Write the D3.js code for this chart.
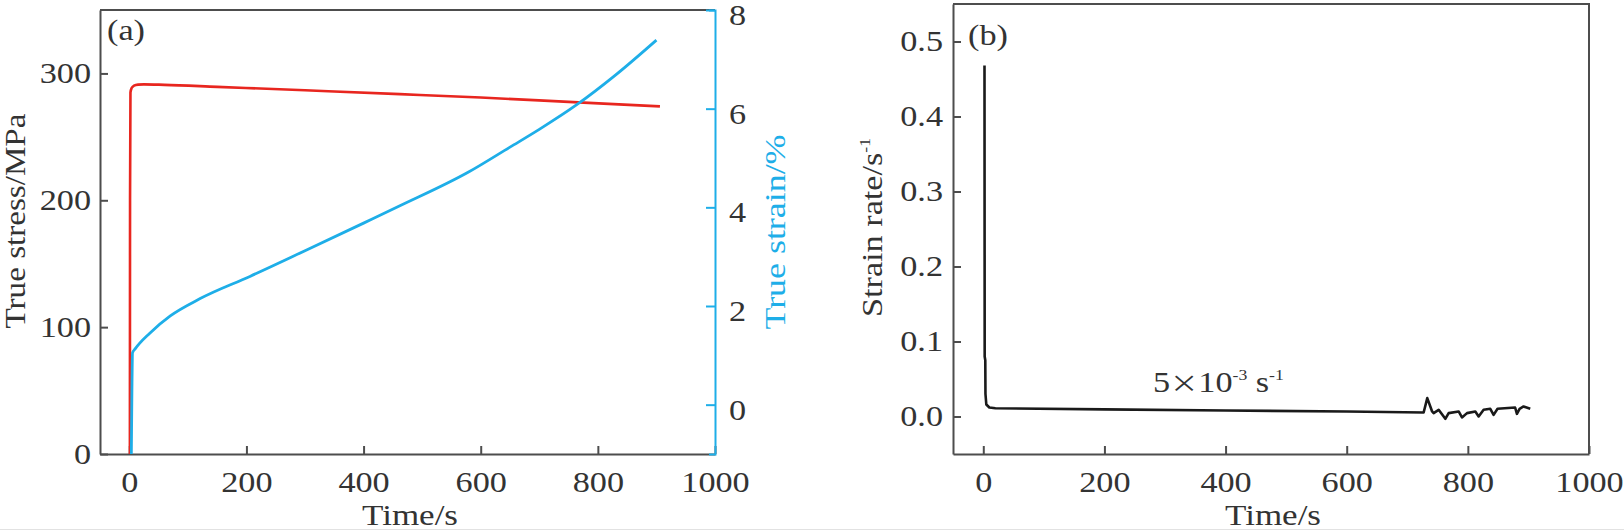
<!DOCTYPE html>
<html>
<head>
<meta charset="utf-8">
<script src="https://cdn.jsdelivr.net/npm/d3@7"></script>
<style>
  html, body { margin: 0; padding: 0; background: #fff; }
  text { font-family: "Liberation Serif", serif; fill: #333; }
</style>
</head>
<body>
<div id="chart"></div>
<script>
// panel (a): true stress / true strain against time
var timeStress = [1, 1.3, 2, 4, 8, 15, 25, 60, 150, 300, 462, 600, 750, 906];
var stress     = [0, 200, 285, 288.5, 290.3, 291.2, 291.4, 291, 289.4, 286.7, 283.7, 281, 277.6, 274];

var timeStrain = [3.5, 4.5, 5.5, 10, 35, 70, 121, 206, 300, 400, 462, 580, 650, 700, 764, 830, 900];
var strain     = [-1, 0.3, 1.05, 1.13, 1.45, 1.8, 2.15, 2.6, 3.12, 3.68, 4.03, 4.72, 5.22, 5.58, 6.08, 6.68, 7.39];

// panel (b): strain rate against time
var timeRate = [2, 2.3, 3.3, 3.6, 5, 10, 20, 200, 400, 600, 727, 733, 741, 743.5, 751.8, 762.8, 768.3, 784.8,
                790.3, 798.6, 812.3, 817.8, 826, 837, 842.5, 849, 878, 881, 885.4, 892, 903];
var rate     = [0.468, 0.08, 0.075, 0.03, 0.016, 0.012, 0.011, 0.0095, 0.008, 0.0066, 0.0053, 0.0245, 0.0067, 0.0045,
                0.0089, -0.0031, 0.0045, 0.0067, -0.0013, 0.0045, 0.0067, 0.0, 0.0089, 0.0103, 0.0022, 0.0103,
                0.012, 0.0036, 0.0103, 0.0134, 0.0103];

var timeTicks   = [0, 200, 400, 600, 800, 1000];
var stressTicks = [0, 100, 200, 300];
var strainTicks = [0, 2, 4, 6, 8];
var rateTicks   = [0, 0.1, 0.2, 0.3, 0.4, 0.5];

var W = 1624, H = 532;
var SX = 1.18;          // the source font is drawn wide
var FS = 29;
var GREY = '#4d4d4d', BLUE = '#1eaee8', RED = '#e8261f';

var svg = d3.select('#chart').append('svg')
    .attr('width', W)
    .attr('height', H);

function stretch(sel) {
    sel.each(function () {
        var t = d3.select(this);
        var x = +t.attr('x') || 0, y = +t.attr('y') || 0;
        t.attr('x', 0).attr('y', 0)
            .attr('transform', 'translate(' + x + ',' + y + ') scale(' + SX + ',1)');
    });
}

function styleAxis(g, colour) {
    g.select('.domain').attr('stroke', colour).attr('stroke-width', 2);
    g.selectAll('.tick line').attr('stroke', colour).attr('stroke-width', 2);
    g.selectAll('.tick text')
        .attr('fill', '#333')
        .style('font-family', '"Liberation Serif", serif')
        .style('font-size', FS + 'px');
    stretch(g.selectAll('.tick text'));
}

// axis titles are fitted to the length they have in the picture
function label(txt, x, y, rot, len, colour) {
    return svg.append('text')
        .attr('transform', 'translate(' + x + ',' + y + ') rotate(' + rot + ')')
        .attr('text-anchor', 'middle')
        .attr('textLength', len)
        .attr('lengthAdjust', 'spacingAndGlyphs')
        .style('font-size', FS + 'px')
        .style('fill', colour || '#333')
        .text(txt);
}

// ---------- panel (a) ----------
var xA = d3.scaleLinear().domain([-50, 1000]).range([100, 715]);
var yStress = d3.scaleLinear().domain([0, 350]).range([454, 10]);
var yStrain = d3.scaleLinear().domain([-1, 8]).range([454, 10]);

svg.append('line')
    .attr('x1', 100).attr('x2', 715).attr('y1', 10).attr('y2', 10)
    .attr('stroke', GREY).attr('stroke-width', 2);

var xAxisA = svg.append('g').attr('transform', 'translate(0,454)')
    .call(d3.axisBottom(xA).tickValues(timeTicks).tickFormat(d3.format('d'))
        .tickSize(-8).tickSizeOuter(0).tickPadding(17));
styleAxis(xAxisA, GREY);

var yAxisA = svg.append('g').attr('transform', 'translate(100,0)')
    .call(d3.axisLeft(yStress).tickValues(stressTicks).tickSize(-8).tickSizeOuter(0).tickPadding(9));
styleAxis(yAxisA, GREY);

var yAxisR = svg.append('g').attr('transform', 'translate(715,0)')
    .call(d3.axisRight(yStrain).tickValues(strainTicks).tickSize(-9).tickSizeOuter(-6).tickPadding(14));
styleAxis(yAxisR, BLUE);
yAxisR.selectAll('.tick text').attr('dy', '0.5em');

var stressLine = d3.line()
    .x(function (d, i) { return xA(timeStress[i]); })
    .y(function (d) { return yStress(d); })
    .curve(d3.curveMonotoneX);

var strainLine = d3.line()
    .x(function (d, i) { return xA(timeStrain[i]); })
    .y(function (d) { return yStrain(d); })
    .curve(d3.curveMonotoneX);

svg.append('path').datum(stress)
    .attr('d', stressLine)
    .attr('fill', 'none').attr('stroke', RED).attr('stroke-width', 2.6);

svg.append('path').datum(strain)
    .attr('d', strainLine)
    .attr('fill', 'none').attr('stroke', BLUE).attr('stroke-width', 2.8);

svg.append('text')
    .attr('transform', 'translate(107,40) scale(' + SX + ',1)')
    .style('font-size', FS + 'px')
    .text('(a)');

label('True stress/MPa', 25, 221, -90, 215);
label('True strain/%', 785, 232, -90, 195, BLUE);
label('Time/s', 410, 525, 0, 96);

// ---------- panel (b) ----------
var xB = d3.scaleLinear().domain([-50, 1000]).range([953, 1589]);
var yRate = d3.scaleLinear().domain([-0.05, 0.55]).range([454, 4]);

svg.append('path')
    .attr('d', 'M953,4H1589V454')
    .attr('fill', 'none').attr('stroke', GREY).attr('stroke-width', 2);

var xAxisB = svg.append('g').attr('transform', 'translate(0,454)')
    .call(d3.axisBottom(xB).tickValues(timeTicks).tickFormat(d3.format('d'))
        .tickSize(-8).tickSizeOuter(0).tickPadding(17));
styleAxis(xAxisB, GREY);

var yAxisB = svg.append('g').attr('transform', 'translate(953,0)')
    .call(d3.axisLeft(yRate).tickValues(rateTicks).tickFormat(d3.format('.1f'))
        .tickSize(-8).tickSizeOuter(0).tickPadding(10));
styleAxis(yAxisB, GREY);

var rateLine = d3.line()
    .x(function (d, i) { return xB(timeRate[i]); })
    .y(function (d) { return yRate(d); });

svg.append('path').datum(rate)
    .attr('d', rateLine)
    .attr('fill', 'none').attr('stroke', '#1a1a1a').attr('stroke-width', 2.6)
    .attr('stroke-linejoin', 'round');

svg.append('text')
    .attr('transform', 'translate(968,45) scale(' + SX + ',1)')
    .style('font-size', FS + 'px')
    .text('(b)');

var ylab = svg.append('text')
    .attr('transform', 'translate(882,317) rotate(-90) scale(' + SX + ',1)')
    .attr('text-anchor', 'start')
    .style('font-size', FS + 'px');
ylab.append('tspan').text('Strain rate/s');
ylab.append('tspan').attr('dy', -12).style('font-size', '15px').text('-1');

var note = svg.append('text')
    .attr('transform', 'translate(' + xB(280) + ',' + yRate(0.033) + ') scale(' + SX + ',1)')
    .style('font-size', FS + 'px');
note.append('tspan').text('5');
note.append('tspan').style('font-family', '"Noto Sans CJK SC", sans-serif').style('font-size', '24px').text('\u00d7');
note.append('tspan').text('10');
note.append('tspan').attr('dy', -12).style('font-size', '15px').text('-3');
note.append('tspan').attr('dy', 12).text(' s');
note.append('tspan').attr('dy', -12).style('font-size', '15px').text('-1');

label('Time/s', 1273, 525, 0, 96);

svg.append('line')
    .attr('x1', 0).attr('x2', W).attr('y1', 529.5).attr('y2', 529.5)
    .attr('stroke', '#e2e2e2').attr('stroke-width', 1);
</script>
</body>
</html>
